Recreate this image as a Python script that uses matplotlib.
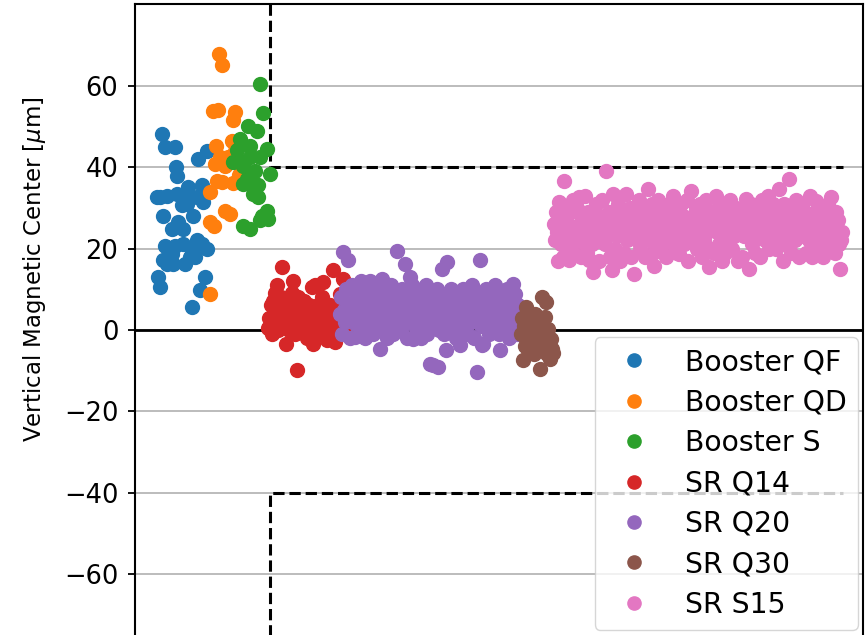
import numpy as np
import matplotlib
matplotlib.use('Agg')
import matplotlib.pyplot as plt

# Booster magnets: position index and vertical magnetic centre [um]
qf_x = [26.7, 30, 40, 71.7, 63.3, 41, 42.3, 66.7, 53.3, 21.7, 31.7, 41.7, 51.7, 61.7, 68.3,
        46.7, 28.3, 58.3, 43.3, 36.7, 48.3, 61.7, 30, 40, 48.3, 56.7, 71.7, 66.7, 28.3, 38.3,
        50, 60, 23.3, 25, 70, 65, 56.7, 25, 51.7, 55, 31.7, 36.7]
qf_y = [48.1, 44.9, 44.9, 44.0, 42.0, 40.0, 37.9, 35.5, 35.1, 32.6, 33.0, 33.4, 33.0, 32.6, 31.4,
        30.6, 28.1, 28.1, 26.5, 24.8, 24.8, 22.0, 20.7, 20.7, 21.1, 19.9, 19.9, 21.1, 17.1, 16.3,
        16.3, 17.9, 13.0, 10.5, 13.0, 9.7, 5.6, 32.6, 31.0, 17.9, 16.3, 18.7]

qd_x = [84.3, 86.7, 78.3, 83.3, 100, 97.7, 81, 96.7, 85, 80, 90, 93.3, 81.7, 86.7, 75,
        90, 95, 75, 79, 75, 88.3, 100, 104, 98]
qd_y = [67.9, 65.1, 53.9, 54.1, 53.5, 51.6, 45.3, 46.5, 42.4, 40.8, 40.4, 42.4, 36.7, 36.3, 33.8,
        29.3, 28.5, 26.5, 25.6, 8.9, 41.2, 44.0, 38.0, 36.0]

qs_x = [125, 128.3, 113.3, 122.3, 105, 115, 131.7, 101.7, 105, 115, 125, 98.3, 108.3, 120, 135,
        111.7, 115, 123.3, 108.3, 118.3, 123.3, 131.7, 126.7, 133.3, 108.3, 115, 125]
qs_y = [60.4, 53.2, 50.2, 49.0, 46.9, 45.3, 44.5, 44.1, 41.6, 42.4, 42.4, 41.2, 40.4, 39.1, 38.2,
        37.1, 35.9, 35.5, 35.9, 33.4, 32.6, 29.3, 28.1, 27.3, 25.6, 24.8, 26.9]

# Storage ring magnets: first position index, then one value per magnet
q14_start = 133
q14_y = [0.5, 3, 1, 6, -1, 7, 2, 9, 4, 11,
         0, 5, 2, 8, 15.4, 3, 6, 1, -3.4, 4,
         7, 0, 2, 5, 9, 12, 3, -1, 6, -9.9,
         8, 2, 4, 0, 5, 3, 7, 1, 4, -2,
         3, 6, 0, 2, 10.5, -3.4, 5, 11, 1, 3,
         6, -1, 4, 2, 8, 11.7, 0, 5, 3, -2.6,
         4, 1, 6, 2, 0, 14.6, 3, -3, 5, 1,
         2, -1, 8.9, 4, 0, 12.6, 3, 1]

q20_start = 205
q20_y = [4, 8, -1, 19.1, 5, 2, 10, 3, 17.1, 6,
         -2, 4, 11, 2, 7, -1.8, 5, 1, 9, -1,
         6, 12, 2, 4, 8, -2, 5, 3, 10, 0,
         12.1, 4, 7, -1, 9, 3, 5, 11, 1, 8,
         -4.6, 4, 12.6, 0, 6, 3, 10, -2, 5, 8,
         2, 11, 4, -1, 7, 3, 9, 19.5, 5, 0,
         8, 4, 10, 1, 6, 16.2, 3, -2, 9, 5,
         13, 2, 11, -2.2, 6, 4, 10, 0, 8, 3,
         5, -2, 9, 2, 7, 4, 11, -1, 7, 3,
         -8.3, 5, 9, -8.7, 1, 6, 4, 10, -9.1, 0,
         6, 3, 15, 8, -1, 5, -5, 16.6, 9, 2,
         4, 10, 0, 7, 3, 8, -2, 5, 9, 1,
         -3.8, 6, 4, 10, 0, 8, 3, 5, -1, 9,
         2, 6, 11, 4, -2, 7, 3, -10.3, 5, 9,
         17.1, 1, -3.8, -3.4, 6, 4, 10, 2, 8, -1,
         5, 3, 9, 0, 6, 11, 4, 2, 8, -1,
         -5, 5, 3, 9, 0, 7, 4, 10, 2, -2,
         8, 3, 5, 11.3, 2, 8.9, 4, -1, 6, 3,
         1]

q30_start = 386
q30_y = [-1, 3, -7.3, 1, -4, 5.6, 1.5, -5, 3.6, -2,
         -3.4, 2, 0.7, -6, 4, -1, 1, -3, 2, -9.5,
         -2.6, 8.1, 0, -4, 3.2, 6.8, -6, 0.3, -3, -7.1,
         -2.2, -4.6, -5.8]

s15_start = 419
s15_y = [26, 22, 29, 24, 17, 31.4, 27, 21, 25, 18,
         36.7, 23, 30, 20, 26, 17.1, 24, 29, 21, 32,
         19, 25, 23, 30, 22, 32.6, 26, 18, 28, 24,
         21, 33, 25, 19, 29, 17.1, 23, 26, 21, 14.2,
         28, 24, 31, 22, 26, 17, 27, 25, 32, 23,
         28, 21, 39.1, 26, 24, 29, 18, 27, 14.6, 33.4,
         25, 20, 28, 23, 31, 26, 17, 27, 24, 29,
         19, 26, 33.4, 22, 28, 25, 30, 18, 27, 24,
         13.8, 26, 29, 22, 25, 32, 20, 27, 23, 28,
         26, 18, 29, 24, 34.6, 22, 27, 25, 31, 19,
         15.8, 26, 28, 23, 32, 25, 20, 27, 24, 29,
         22, 26, 18, 28, 25, 31, 23, 27, 21, 33,
         26, 24, 29, 19, 27, 18.7, 25, 31, 23, 28,
         21, 26, 24, 32, 17, 27, 25, 34.2, 22, 28,
         26, 23, 30, 20, 27, 25, 31, 24, 18, 28,
         22, 26, 32, 24, 27, 15.4, 25, 29, 20, 26,
         19, 28, 33, 24, 27, 21, 31, 25, 17, 28,
         26, 19, 29, 24, 27, 22, 32, 25, 20, 28,
         23, 26, 30, 24, 17, 27, 25, 29, 18, 26,
         23, 28, 32.2, 24, 27, 15, 25, 31, 21, 26,
         28, 19, 25, 30, 23, 27, 18, 26, 32, 24,
         28, 22, 25, 29, 33, 20, 27, 21, 26, 31,
         24, 28, 19.9, 25, 27, 34.6, 22, 29, 24, 17,
         31, 21, 28, 25, 23, 37.1, 27, 19, 30, 24,
         26, 22, 32, 25, 28, 18, 27, 23, 31, 26,
         24, 29, 19, 27, 25, 22, 33, 26, 18, 28,
         21, 27, 31.8, 24, 30, 20, 26, 25, 19, 17.9,
         28, 23, 27, 21, 31, 25, 24, 32.6, 20, 28,
         26, 19, 29, 23, 27, 21, 15, 22, 24]

labels = ['Booster QF', 'Booster QD', 'Booster S', 'SR Q14', 'SR Q20', 'SR Q30', 'SR S15']

# tolerance window corners (booster limit left of the step, +-40 um for SR)
tol_x = [135, 135, 708]
tol_hi = [80, 40, 40]
tol_lo = [-80, -40, -40]

fig = plt.figure(figsize=(8.65, 6.35), dpi=100)
ax = fig.add_axes([0.156, -0.032, 0.8416, 1.025])

ax.axhline(0, color='k', lw=2, zorder=1)
ax.plot(tol_x, tol_hi, 'k--', lw=2.2, zorder=1)
ax.plot(tol_x, tol_lo, 'k--', lw=2.2, zorder=1)

series = [(qf_x, qf_y), (qd_x, qd_y), (qs_x, qs_y),
          (q14_start + np.arange(len(q14_y)), q14_y),
          (q20_start + np.arange(len(q20_y)), q20_y),
          (q30_start + np.arange(len(q30_y)), q30_y),
          (s15_start + np.arange(len(s15_y)), s15_y)]
for i, (x, y) in enumerate(series):
    ax.plot(x, y, 'o', color='C%d' % i, ms=10, label=labels[i], zorder=2)

ax.set_xlim(0, 728)
ax.set_ylim(-80, 80)
ax.set_yticks(np.arange(-60, 61, 20))
ax.set_xticks([])
ax.yaxis.grid(True, color='#b0b0b0', lw=1.2)
ax.set_axisbelow(True)
ax.tick_params(axis='y', labelsize=18.5, length=5, width=1.3, pad=7)
for s in ax.spines.values():
    s.set_linewidth(1.5)

ax.set_ylabel(r'Vertical Magnetic Center [$\mu$m]', fontsize=16.5)
ax.yaxis.set_label_coords(-0.12, 0.594)

ax.legend(loc='lower right', bbox_to_anchor=(858 / 865, 5 / 635),
          bbox_transform=fig.transFigure, borderaxespad=0, fontsize=20.3,
          labelspacing=0.44, numpoints=1, markerscale=0.95)

fig.savefig('out.png', dpi=100)
